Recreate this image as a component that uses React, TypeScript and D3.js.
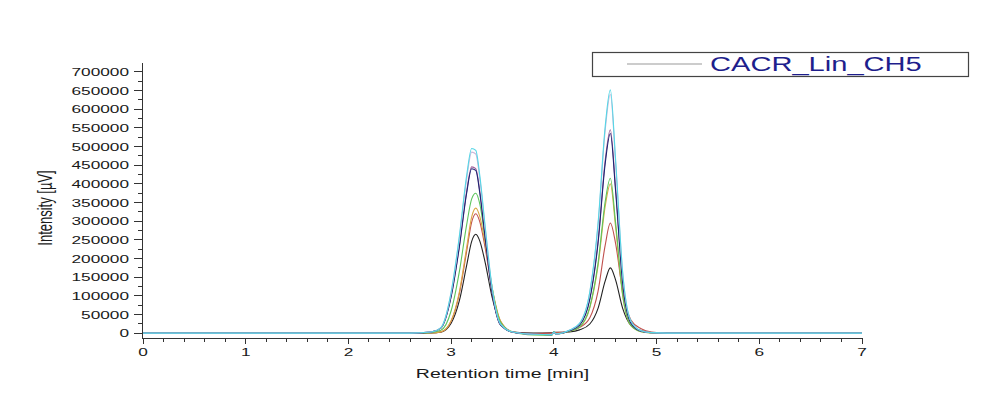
import { useMemo } from 'react';
import * as d3 from 'd3';

// Retention times (min) shared by every trace
const times = [0, 2.6, 2.8, 2.9, 3.0, 3.08, 3.15, 3.2, 3.24, 3.28, 3.33, 3.4, 3.48, 3.6, 3.8, 3.98, 4.0, 4.02,
  4.15, 4.25, 4.35, 4.43, 4.5, 4.55, 4.6, 4.67, 4.75, 4.85, 4.95, 5.1, 7];

// Intensities (µV), read from the overlay
const black = [0, 0, 500, 2700, 26500, 87000, 180000, 246000, 265000, 246000, 191000, 95000, 26500, 2700, 0, 1000, 2000, 2000,
  3500, 8800, 24500, 66500, 140000, 175000, 143500, 66500, 21000, 7000, 1800, 0, 0];
const red = [0, 0, 600, 3200, 32000, 105600, 217600, 297600, 320000, 297600, 230400, 115200, 32000, 3200, -1000, 0, 1500, 1500,
  5900, 14750, 41300, 112100, 236000, 295000, 241900, 112100, 35400, 11800, 2950, 0, 0];
const orange = [0, 0, 700, 3350, 33500, 110500, 227800, 311500, 335000, 311500, 241200, 120600, 33500, 3350, -3000, -4000, 2000, -1000,
  4800, 16000, 68000, 180000, 340000, 400000, 288000, 100000, 20000, 4000, 800, 0, 0];
const green = [0, 0, 1500, 7500, 60000, 165000, 288800, 360000, 375000, 345000, 255000, 120000, 30000, 3000, -5000, -6000, 4000, -3000,
  5000, 16600, 70500, 186800, 352800, 415000, 298800, 103800, 20800, 4150, 830, 0, 0];
const purple = [0, 0, 2700, 13500, 99000, 234000, 378000, 445500, 441000, 378000, 261000, 108000, 22500, 2700, -3000, -4000, 2000, -2000,
  6500, 21800, 92700, 245300, 463300, 545000, 392400, 136300, 27300, 5450, 1100, 0, 0];
const navy = [0, 0, 2700, 13400, 97900, 231400, 373800, 440600, 436100, 373800, 258100, 106800, 22300, 2700, -3000, -4000, 2000, -2000,
  6400, 21400, 91000, 240800, 454800, 535000, 385200, 133800, 26800, 5350, 1070, 0, 0];
const lavender = [0, 0, 2900, 14700, 107800, 254800, 411600, 485100, 480200, 411600, 284200, 117600, 24500, 2900, -3000, -4000, 2000, -2000,
  7700, 25600, 108800, 288000, 544000, 640000, 460800, 160000, 32000, 6400, 1300, 0, 0];
const cyan = [0, 0, 3000, 15000, 110000, 260000, 420000, 495000, 490000, 420000, 290000, 120000, 25000, 3000, -3000, -4000, 3000, -2000,
  7800, 26100, 110800, 293400, 554200, 652000, 469400, 163000, 32600, 6500, 1300, 0, 0];

const xTicks = [0, 1, 2, 3, 4, 5, 6, 7];
const yTicks = [0, 50000, 100000, 150000, 200000, 250000, 300000, 350000, 400000, 450000, 500000, 550000, 600000, 650000, 700000];
const yMinor = [25000, 75000, 125000, 175000, 225000, 275000, 325000, 375000, 425000, 475000, 525000, 575000, 625000, 675000];

const legendLabel = 'CACR_Lin_CH5';

const traces = [
  { values: black, color: '#222222' },
  { values: red, color: '#c0504d' },
  { values: orange, color: '#dba845' },
  { values: green, color: '#5cc45c' },
  { values: purple, color: '#a0609a' },
  { values: navy, color: '#1e2472' },
  { values: lavender, color: '#cdb9da' },
  { values: cyan, color: '#55d6e6' },
];

const W = 995;
const H = 398;
const STRETCH = 1.5; // the source picture is stretched horizontally
const font = 'Liberation Sans, Arial, sans-serif';

export default function App() {
  const x = useMemo(() => d3.scaleLinear().domain([0, 7]).range([143, 862]), []);
  const y = useMemo(() => d3.scaleLinear().domain([-13000, 724000]).range([338, 63]), []);

  const line = d3.line<number>()
    .x((_, i) => x(times[i]))
    .y(d => y(d))
    .curve(d3.curveMonotoneX);

  const x0 = x(0);
  const yBase = y(-13000);
  const xMinor = x.ticks(35);

  return (
    <svg width={W} height={H} style={{ position: 'absolute', left: 0, top: 0, background: '#fff' }}>
      {/* traces */}
      <g fill="none" strokeWidth={1.1}>
        {traces.map((t, i) => (
          <path key={i} d={line(t.values) ?? ''} stroke={t.color} />
        ))}
      </g>

      {/* axes */}
      <g stroke="#333" strokeWidth={1} shapeRendering="crispEdges">
        <line x1={x0 - 1} x2={x0 - 1} y1={y(724000)} y2={yBase} />
        <line x1={x0 - 1} x2={x(7)} y1={yBase} y2={yBase} />
        {yTicks.map(v => (
          <line key={'ym' + v} x1={x0 - 9} x2={x0 - 1} y1={y(v)} y2={y(v)} />
        ))}
        {yMinor.map(v => (
          <line key={'yn' + v} x1={x0 - 5} x2={x0 - 1} y1={y(v)} y2={y(v)} />
        ))}
        {xMinor.map(v => (
          <line key={'xn' + v} x1={x(v)} x2={x(v)} y1={yBase} y2={yBase + (Number.isInteger(Math.round(v * 1000) / 1000) ? 6 : 4)} />
        ))}
      </g>

      {/* tick labels */}
      <g fontFamily={font} fontSize={11.5} fill="#1a1a1a">
        {yTicks.map(v => (
          <g key={'yl' + v} transform={`translate(${x0 - 14},${y(v)}) scale(${STRETCH},1)`}>
            <text textAnchor="end" dy="0.35em">{v}</text>
          </g>
        ))}
        {xTicks.map(v => (
          <g key={'xl' + v} transform={`translate(${x(v)},${yBase + 18}) scale(${STRETCH},1)`}>
            <text textAnchor="middle">{v}</text>
          </g>
        ))}
      </g>

      {/* axis titles */}
      <g fontFamily={font} fontSize={13} fill="#1a1a1a">
        <g transform={`translate(${(x(0) + x(7)) / 2},${yBase + 40}) scale(${STRETCH},1)`}>
          <text textAnchor="middle">Retention time [min]</text>
        </g>
        <g transform={`translate(52,${208}) scale(${STRETCH},1) rotate(-90)`}>
          <text textAnchor="middle">Intensity [µV]</text>
        </g>
      </g>

      {/* legend */}
      <g>
        <rect x={592.5} y={52.5} width={376} height={24} fill="#fff" stroke="#444" strokeWidth={1.2} />
        <line x1={627} x2={702} y1={64} y2={64} stroke="#999" strokeWidth={1} />
        <g transform={`translate(710,70.5) scale(1.42,1)`}>
          <text fontFamily={font} fontSize={20.5} fill="#1e1e8c">{legendLabel}</text>
        </g>
      </g>
    </svg>
  );
}
